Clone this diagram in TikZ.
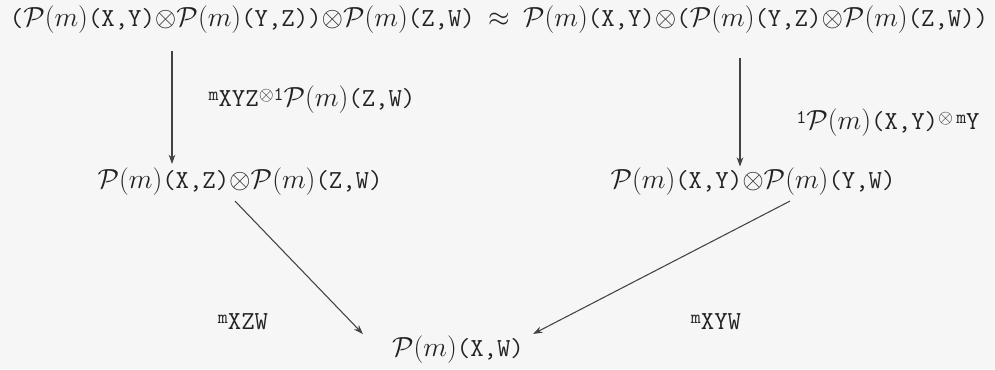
\documentclass[tikz,border=0pt]{standalone}
\usetikzlibrary{arrows.meta,calc}
\definecolor{ink}{HTML}{222222}
\definecolor{bg}{HTML}{F6F6F6}
\newcommand\Pm{$\mathcal{P}(m)$}
\newcommand\sm[1]{\raisebox{5pt}{\fontsize{14.5}{14.5}\selectfont #1}}
\begin{document}
\begin{tikzpicture}[x=0.75pt,y=-0.75pt,
  every node/.style={font=\ttfamily\fontsize{19.5}{23}\selectfont, text=ink, inner sep=0pt},
  arr/.style={draw=ink!85, line width=0.8pt, -{Stealth[length=7pt,width=5pt]}}]
\fill[bg] (0,0) rectangle (995,369);
\useasboundingbox (0,0) rectangle (995,369);
\node (top) at (499,20) {(\Pm(X,Y)$\otimes$\Pm(Y,Z))$\otimes$\Pm(Z,W) $\approx$ \Pm(X,Y)$\otimes$(\Pm(Y,Z)$\otimes$\Pm(Z,W))};
\node (ML) at (240,182) {\Pm(X,Z)$\otimes$\Pm(Z,W)};
\node (MR) at (753,182) {\Pm(X,Y)$\otimes$\Pm(Y,W)};
\node (B) at (458,350) {\Pm(X,W)};
\node (lL) at (312,100) {\sm{m}XYZ\sm{$\otimes$1}\Pm(Z,W)};
\node (lR) at (888,123) {\sm{1}\Pm(X,Y)\sm{$\otimes$\,m}Y};
\node (lXZW) at (243,322) {\sm{m}XZW};
\node (lXYW) at (716,322) {\sm{m}XYW};
\coordinate (cl) at (172,0);
\coordinate (cr) at (740,0);
\draw[arr, shorten <=13pt, shorten >=3pt] (top.south -| cl) -- (ML.north -| cl);
\draw[arr, shorten <=18pt, shorten >=1pt] (top.south -| cr) -- (MR.north -| cr);
\draw[arr] ($(ML.south)+(-5,5)$) -- ($(B.north west)+(-29,-2)$);
\draw[arr] ($(MR.south)+(37,5)$) -- ($(B.north east)+(9,-2)$);
\end{tikzpicture}
\end{document}
